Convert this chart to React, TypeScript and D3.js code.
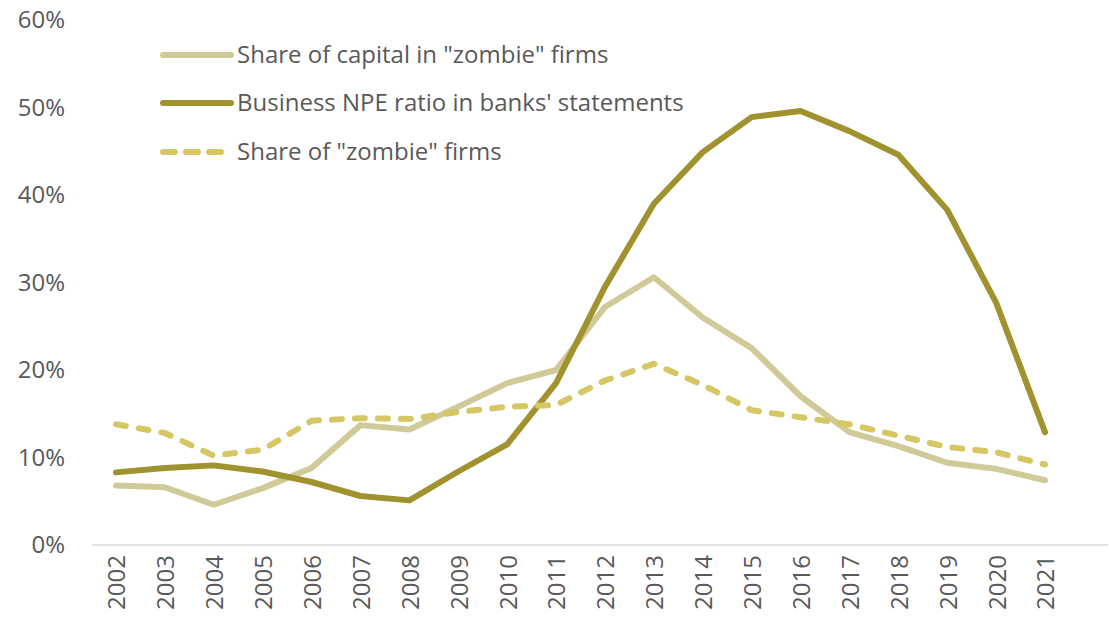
import * as d3 from "d3";
import { useEffect, useRef } from "react";

const years = [
  "2002", "2003", "2004", "2005", "2006", "2007", "2008", "2009", "2010", "2011",
  "2012", "2013", "2014", "2015", "2016", "2017", "2018", "2019", "2020", "2021",
];

// percentages
const capitalShare = [
  6.8, 6.6, 4.6, 6.5, 8.8, 13.7, 13.2, 15.8, 18.5, 20.0,
  27.2, 30.6, 26.0, 22.5, 17.0, 12.9, 11.3, 9.4, 8.7, 7.4,
];
const npeRatio = [
  8.3, 8.8, 9.1, 8.4, 7.2, 5.6, 5.1, 8.4, 11.5, 18.5,
  29.5, 39.0, 44.9, 48.9, 49.6, 47.3, 44.6, 38.3, 27.7, 12.9,
];
const zombieShare = [
  13.8, 12.8, 10.2, 10.9, 14.2, 14.5, 14.4, 15.2, 15.8, 16.0,
  18.8, 20.7, 18.3, 15.4, 14.6, 13.8, 12.5, 11.2, 10.6, 9.2,
];

const yTicks = [0, 10, 20, 30, 40, 50, 60];

const seriesNames = [
  'Share of capital in "zombie" firms',
  "Business NPE ratio in banks' statements",
  'Share of "zombie" firms',
];

const FONT = "'Open Sans', 'Noto Sans', sans-serif";
const TEXT_COLOR = "#595959";

export default function App() {
  const svgRef = useRef<SVGSVGElement>(null);

  useEffect(() => {
    if (!svgRef.current) return;
    const svg = d3.select(svgRef.current);
    svg.selectAll("*").remove();

    const width = 1109;
    const height = 619;

    const x = d3.scalePoint<string>().domain(years).range([116, 1045]);
    const y = d3.scaleLinear().domain([0, 60]).range([545, 20]);

    // x axis line
    svg
      .append("line")
      .attr("x1", 92)
      .attr("x2", 1108)
      .attr("y1", y(0))
      .attr("y2", y(0))
      .attr("stroke", "#d9d9d9")
      .attr("stroke-width", 1.5);

    // y tick labels
    svg
      .append("g")
      .selectAll("text")
      .data(yTicks)
      .enter()
      .append("text")
      .attr("x", 65)
      .attr("y", (d) => y(d))
      .attr("dy", "0.35em")
      .attr("text-anchor", "end")
      .style("font-family", FONT)
      .style("font-size", "24px")
      .style("fill", TEXT_COLOR)
      .text((d) => `${d}%`);

    // x tick labels, rotated
    svg
      .append("g")
      .selectAll("text")
      .data(years)
      .enter()
      .append("text")
      .attr(
        "transform",
        (d) => `translate(${(x(d) || 0) + 1},${y(0) + 10}) rotate(-90)`,
      )
      .attr("dy", "0.35em")
      .attr("text-anchor", "end")
      .style("font-family", FONT)
      .style("font-size", "24px")
      .style("fill", TEXT_COLOR)
      .text((d) => d);

    const line = d3
      .line<number>()
      .x((_, i) => x(years[i]) || 0)
      .y((d) => y(d));

    const series = [
      { values: capitalShare, color: "#cfca98", dash: null },
      { values: npeRatio, color: "#a0922f", dash: null },
      { values: zombieShare, color: "#d5c763", dash: "10,13" },
    ];

    series.forEach((s) => {
      svg
        .append("path")
        .datum(s.values)
        .attr("d", line)
        .attr("fill", "none")
        .attr("stroke", s.color)
        .attr("stroke-width", 6)
        .attr("stroke-linecap", "round")
        .attr("stroke-linejoin", "round")
        .attr("stroke-dasharray", s.dash);
    });

    // legend
    const legendY = [55, 103, 152];
    series.forEach((s, i) => {
      const g = svg.append("g").attr("transform", `translate(163,${legendY[i]})`);
      g.append("line")
        .attr("x1", 0)
        .attr("x2", 68)
        .attr("stroke", s.color)
        .attr("stroke-width", 6)
        .attr("stroke-linecap", "round")
        .attr("stroke-dasharray", s.dash ? "12,11" : null);
      g.append("text")
        .attr("x", 74)
        .attr("dy", "0.35em")
        .style("font-family", FONT)
        .style("font-size", "24px")
        .style("fill", TEXT_COLOR)
        .text(seriesNames[i]);
    });

    svg.attr("width", width).attr("height", height);
  }, []);

  return (
    <div style={{ position: "absolute", left: 0, top: 0 }}>
      <svg ref={svgRef} style={{ display: "block", background: "#fff" }} />
    </div>
  );
}
